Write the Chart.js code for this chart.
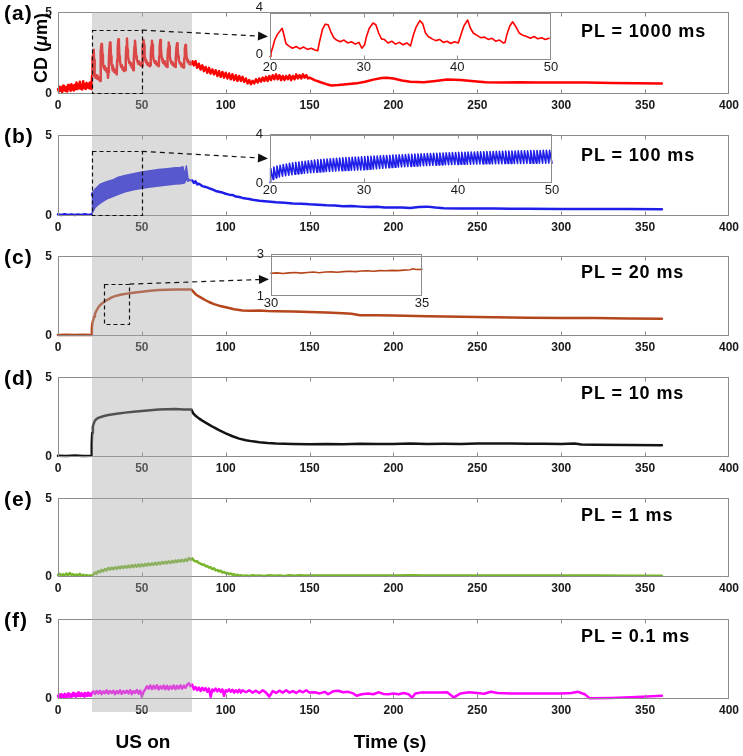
<!DOCTYPE html>
<html><head><meta charset="utf-8">
<script src="https://cdn.jsdelivr.net/npm/chart.js@4.4.0/dist/chart.umd.min.js"></script>
<style>
html,body{margin:0;padding:0;background:#fff;}
#wrap{position:relative;width:743px;height:756px;overflow:hidden;font-family:Arial,"Liberation Sans",Helvetica,sans-serif;}
#wrap canvas{position:absolute;}
.t{position:absolute;font-weight:bold;color:#000;white-space:nowrap;z-index:5;}
.pl{font-size:18px;line-height:18px;letter-spacing:0.9px;left:581px;}
.pn{font-size:21px;line-height:21px;letter-spacing:1px;left:4px;}
</style></head><body>
<div id="wrap">
  <div class="t pn" style="top:1.7px">(a)</div>
  <div class="t pn" style="top:124.7px">(b)</div>
  <div class="t pn" style="top:245.7px">(c)</div>
  <div class="t pn" style="top:366.7px">(d)</div>
  <div class="t pn" style="top:487.7px">(e)</div>
  <div class="t pn" style="top:608.7px">(f)</div>
  <div class="t pl" style="top:22px">PL = 1000 ms</div>
  <div class="t pl" style="top:146px">PL = 100 ms</div>
  <div class="t pl" style="top:263px">PL = 20 ms</div>
  <div class="t pl" style="top:384px">PL = 10 ms</div>
  <div class="t pl" style="top:506px">PL = 1 ms</div>
  <div class="t pl" style="top:627px">PL = 0.1 ms</div>
  <div class="t" style="left:41px;top:48px;font-size:18px;line-height:18px;transform:translate(-50%,-50%) rotate(-90deg);">CD (<span style="font-style:italic">μ</span>m)</div>
  <div class="t" style="left:143px;top:732px;font-size:19px;line-height:19px;transform:translateX(-50%);">US on</div>
  <div class="t" style="left:390px;top:732px;font-size:19px;line-height:19px;transform:translateX(-50%);">Time (s)</div>
</div>
<script>
// ---------------- DATA ----------------
const xTickStep = 50, xMax = 400, yMax = 5;
const usOn = [20, 80];

// (a) PL = 1000 ms  [time s, CD um]
const aBefore = [[0,0.3],[0.5,0.15],[1,0.45],[1.5,0.2],[2,0.4],[2.5,0.12],[3,0.5],[3.5,0.25],[4,0.45],[4.5,0.18],[5,0.42],[5.5,0.15],[6,0.55],[6.5,0.3],[7,0.48],[7.5,0.2],[8,0.6],[8.5,0.28],[9,0.5],[9.5,0.22],[10,0.55],[10.5,0.3],[11,0.7],[11.5,0.3],[12,0.58],[12.5,0.35],[13,0.75],[13.5,0.32],[14,0.55],[14.5,0.28],[15,0.78],[15.5,0.38],[16,0.6],[16.5,0.3],[17,0.68],[17.5,0.4],[18,0.62],[18.5,0.35],[19,0.7],[19.5,0.4],[20,0.3]];
const aDuring = [
 [20.1,0.6],[20.3,1.1],[20.5,1.7],[20.8,2.2],[21.1,2.5],[21.3,2.7],[21.5,2.1],[21.7,1.4],[22.0,1.2],[22.4,1.0],[22.8,1.15],[23.2,0.95],[23.6,1.1],[24.0,0.9],[24.4,1.0],[24.8,0.85],[25.1,0.8],
 [25.3,1.6],[25.6,2.6],[25.9,3.05],[26.2,3.0],[26.5,2.4],[26.8,1.9],[27.1,1.7],[27.5,1.55],[27.9,1.7],[28.3,1.45],[28.7,1.55],[29.1,1.35],[29.5,1.5],[29.8,1.0],[30.1,1.3],
 [30.3,2.0],[30.6,2.7],[31.0,3.15],[31.3,3.0],[31.6,2.3],[31.9,1.8],[32.2,1.75],[32.6,1.45],[33.0,1.6],[33.4,1.35],[33.8,1.5],[34.2,1.3],[34.6,1.45],[35.0,1.2],
 [35.3,2.1],[35.6,2.8],[36.0,3.35],[36.3,3.1],[36.6,2.3],[36.9,2.0],[37.3,1.8],[37.7,1.65],[38.1,1.75],[38.5,1.5],[38.9,1.6],[39.3,1.4],[39.7,1.55],[40.1,1.45],
 [40.4,2.2],[40.7,2.9],[41.1,3.4],[41.4,2.7],[41.7,2.3],[42.1,2.1],[42.5,1.9],[42.9,1.95],[43.3,1.75],[43.7,1.85],[44.1,1.6],[44.5,1.7],[44.9,1.45],[45.1,1.5],
 [45.3,2.2],[45.6,2.9],[45.9,3.25],[46.2,2.9],[46.6,2.3],[47.0,2.1],[47.4,2.0],[47.8,1.85],[48.2,2.0],[48.6,1.8],[49.0,1.9],[49.4,1.75],[49.8,1.85],[50.1,1.7],
 [50.3,2.3],[50.6,2.9],[51.0,3.3],[51.3,3.0],[51.6,2.4],[52.0,2.1],[52.4,1.95],[52.8,2.0],[53.2,1.8],[53.6,1.9],[54.0,1.75],[54.4,1.85],[54.8,1.7],[55.1,1.75],
 [55.3,2.3],[55.6,2.9],[56.0,3.25],[56.3,3.0],[56.6,2.4],[57.0,2.1],[57.4,2.0],[57.8,1.9],[58.2,2.0],[58.6,1.8],[59.0,1.9],[59.4,1.75],[59.8,1.85],[60.1,1.7],
 [60.3,2.3],[60.6,2.9],[61.0,3.3],[61.3,2.95],[61.6,2.4],[62.0,2.15],[62.4,2.0],[62.8,1.9],[63.2,2.0],[63.6,1.8],[64.0,1.85],[64.4,1.7],[64.8,1.8],[65.1,1.65],
 [65.3,2.2],[65.6,2.8],[66.0,3.15],[66.3,2.9],[66.6,2.35],[67.0,2.1],[67.4,1.95],[67.8,1.85],[68.2,1.95],[68.6,1.75],[69.0,1.85],[69.4,1.7],[69.8,1.8],[70.1,1.65],
 [70.3,2.2],[70.6,2.8],[71.0,3.1],[71.3,2.85],[71.6,2.3],[72.0,2.05],[72.4,1.95],[72.8,1.85],[73.2,1.9],[73.6,1.7],[74.0,1.8],[74.4,1.65],[74.8,1.75],[75.1,1.6],
 [75.3,2.2],[75.6,2.75],[76.0,3.0],[76.3,2.8],[76.6,2.3],[77.0,2.1],[77.4,1.95],[77.8,2.0],[78.2,1.85],[78.6,1.95],[79.0,1.8],[79.4,1.9],[79.8,1.85]];
const aAfter = [[80.2,2.0],[81,1.75],[82,2.0],[83,1.6],[84,1.85],[85,1.5],[86,1.75],[87,1.4],[88,1.65],[89,1.3],[90,1.6],[91,1.25],[92,1.5],[93,1.2],[94,1.45],[95,1.1],[96,1.4],[97,1.05],[98,1.35],[99,1.0],[100,1.3],[101,0.95],[102,1.25],[103,0.9],[104,1.2],[105,0.85],[106,1.15],[107,0.8],[108,1.1],[109,0.8],[110,1.05],[111,0.75],[112,0.95],[113,0.65],[114,0.85],[115,0.6],[116,0.8],[117,0.65],[118,0.9],[119,0.7],[120,0.95],[121,0.75],[122,1.0],[123,0.8],[124,1.05],[125,0.8],[126,1.1],[127,0.85],[128,1.15],[129,0.9],[130,1.2],[131,0.9],[132,1.15],[133,0.85],[134,1.1],[135,0.85],[136,1.1],[137,0.9],[138,1.15],[139,0.85],[140,1.1],[141,0.9],[142,1.2],[143,0.95],[144,1.15],[145,0.95],[146,1.2],[147,1.0],[148,1.15],[149,0.95],[150,1.0],[153,0.85],[157,0.7],[160,0.6],[163,0.52],[167,0.55],[172,0.6],[178,0.65],[183,0.75],[188,0.88],[193,0.98],[196,1.0],[200,0.95],[205,0.82],[210,0.75],[218,0.72],[225,0.8],[232,0.88],[240,0.85],[248,0.78],[255,0.72],[265,0.7],[275,0.72],[285,0.7],[300,0.71],[315,0.7],[330,0.68],[345,0.66],[360,0.64]];

// (b) PL = 100 ms
const bBefore = [[0,0.1],[2,0.06],[4,0.11],[6,0.07],[8,0.1],[10,0.06],[12,0.1],[14,0.07],[16,0.11],[18,0.07],[19.9,0.1]];
const bBandT     = [20,20.5,21,22,23,25,27,30,33,36,40,45,50,55,60,65,70,73,74.5,75.5,76.5,77.5,78.5,80];
const bBandUpper = [1.3,1.45,1.5,1.65,1.75,1.95,2.05,2.15,2.25,2.4,2.5,2.62,2.72,2.8,2.88,2.93,2.98,3.0,3.05,2.5,3.1,2.3,2.25,2.2];
const bBandLower = [0.1,0.2,0.3,0.5,0.62,0.78,0.92,1.1,1.22,1.35,1.5,1.62,1.72,1.8,1.86,1.92,1.98,2.0,2.02,2.05,2.3,2.15,2.2,2.2];
const bAfter = [[80,2.2],[81,2.05],[82,2.15],[83,1.95],[84,2.0],[86,1.85],[88,1.8],[90,1.72],[92,1.65],[94,1.55],[96,1.5],[98,1.45],[100,1.38],[102,1.32],[104,1.3],[106,1.2],[108,1.18],[110,1.12],[112,1.08],[114,1.05],[116,1.0],[118,0.98],[120,0.95],[125,0.9],[130,0.85],[135,0.82],[140,0.78],[145,0.76],[150,0.72],[155,0.7],[160,0.66],[165,0.65],[170,0.6],[175,0.62],[180,0.58],[185,0.55],[190,0.57],[195,0.52],[200,0.52],[205,0.53],[210,0.5],[215,0.55],[220,0.58],[225,0.52],[230,0.48],[240,0.47],[250,0.46],[260,0.46],[270,0.45],[280,0.45],[300,0.44],[320,0.44],[340,0.43],[360,0.42]];
// (b) inset: one tooth per pulse, pulses start at 20 s, period 1/3 s
const bPulseStart = 20, bPulsePeriod = 1/3, bRise = 0.07;
const bToothLow = [0.05,0.3,0.42,0.5,0.56,0.6,0.64,0.68,0.71,0.74,0.77,0.8,0.82,0.84,0.86,0.88,0.9,0.92,0.94,0.95,0.97,0.98,1.0,1.01,1.02,1.03,1.04,1.05,1.06,1.07,
 1.08,1.1,1.12,1.14,1.16,1.18,1.2,1.22,1.24,1.26,1.28,1.3,1.32,1.33,1.35,1.36,1.38,1.39,1.4,1.42,1.43,1.44,1.45,1.46,1.47,1.48,1.49,1.5,1.51,1.52,
 1.52,1.53,1.53,1.54,1.54,1.55,1.55,1.56,1.56,1.57,1.57,1.57,1.58,1.58,1.58,1.59,1.59,1.59,1.6,1.6,1.6,1.6,1.61,1.61,1.61,1.62,1.62,1.62,1.62,1.63];
const bToothHigh = [1.2,1.3,1.38,1.45,1.5,1.55,1.6,1.64,1.68,1.72,1.75,1.78,1.81,1.84,1.87,1.9,1.92,1.94,1.96,1.98,2.0,2.02,2.04,2.06,2.07,2.08,2.1,2.11,2.12,2.14,
 2.15,2.17,2.18,2.2,2.21,2.22,2.24,2.25,2.26,2.28,2.29,2.3,2.31,2.32,2.34,2.35,2.36,2.37,2.38,2.39,2.4,2.41,2.42,2.43,2.44,2.45,2.46,2.47,2.48,2.49,
 2.5,2.5,2.51,2.52,2.52,2.53,2.54,2.54,2.55,2.56,2.56,2.57,2.58,2.58,2.59,2.6,2.6,2.6,2.61,2.62,2.62,2.63,2.63,2.64,2.64,2.65,2.65,2.66,2.66,2.67];

// (c) PL = 20 ms
const cData = [[0,0.07],[5,0.08],[10,0.06],[15,0.08],[19.8,0.07],[20.2,0.5],[20.5,0.8],[21,1.0],[21.5,1.2],[22,1.38],[23,1.6],[24,1.78],[25,1.92],[26,2.02],[27,2.1],[28,2.18],[29,2.25],[30,2.3],[32,2.42],[34,2.5],[36,2.55],[38,2.6],[40,2.64],[43,2.68],[46,2.72],[50,2.77],[55,2.83],[60,2.88],[65,2.9],[70,2.92],[75,2.92],[79.5,2.91],[80.5,2.8],[82,2.62],[84,2.48],[86,2.36],[88,2.24],[90,2.13],[93,2.0],[96,1.9],[100,1.8],[105,1.68],[110,1.6],[115,1.58],[120,1.6],[125,1.56],[130,1.55],[140,1.53],[150,1.5],[160,1.47],[170,1.42],[175,1.4],[180,1.3],[190,1.3],[200,1.28],[220,1.24],[240,1.2],[260,1.17],[280,1.15],[300,1.13],[320,1.12],[340,1.1],[360,1.08]];
const cInset = [[30,2.08],[30.2,2.1],[30.4,2.07],[30.6,2.1],[30.8,2.12],[31,2.09],[31.2,2.12],[31.4,2.14],[31.6,2.11],[31.8,2.14],[32,2.15],[32.2,2.13],[32.4,2.16],[32.6,2.18],[32.8,2.16],[33,2.19],[33.2,2.2],[33.4,2.18],[33.6,2.21],[33.8,2.2],[34,2.22],[34.2,2.21],[34.4,2.23],[34.6,2.25],[34.7,2.3],[34.8,2.26],[35,2.27]];

// (d) PL = 10 ms
const dData = [[0,0.08],[5,0.07],[10,0.09],[15,0.07],[19.8,0.08],[20.1,0.8],[20.4,1.5],[20.8,1.9],[21.3,2.1],[22,2.28],[23,2.38],[24,2.45],[26,2.52],[28,2.58],[30,2.63],[33,2.68],[36,2.72],[40,2.78],[45,2.84],[50,2.88],[55,2.93],[60,2.97],[65,2.99],[70,3.0],[75,2.98],[79.5,2.97],[80.5,2.75],[82,2.58],[84,2.42],[86,2.28],[88,2.15],[90,2.03],[93,1.85],[96,1.68],[100,1.48],[104,1.3],[108,1.15],[112,1.05],[116,0.98],[120,0.93],[125,0.88],[130,0.85],[140,0.82],[150,0.8],[160,0.82],[170,0.8],[180,0.83],[190,0.81],[200,0.82],[210,0.84],[220,0.82],[230,0.83],[240,0.82],[250,0.84],[260,0.85],[270,0.84],[280,0.83],[290,0.83],[300,0.82],[308,0.84],[312,0.78],[320,0.76],[340,0.75],[360,0.74]];

// (e) PL = 1 ms
const eData = [[0,0.12],[1,0.2],[2,0.1],[3,0.17],[4,0.08],[5,0.22],[6,0.12],[7,0.25],[8,0.13],[9,0.18],[10,0.09],[11,0.16],[12,0.1],[13,0.2],[14,0.08],[15,0.14],[16,0.07],[17,0.12],[18,0.07],[19,0.1],[20,0.08],
 [21,0.15],[22,0.28],[23,0.2],[24,0.38],[25,0.3],[26,0.45],[27,0.37],[28,0.5],[29,0.42],[30,0.57],[31,0.47],[32,0.59],[33,0.49],[34,0.62],[35,0.52],[36,0.65],[37,0.55],[38,0.67],[39,0.57],[40,0.69],[41,0.59],[42,0.72],[43,0.61],[44,0.75],[45,0.63],[46,0.77],[47,0.65],[48,0.79],[49,0.67],[50,0.8],[51,0.69],[52,0.83],[53,0.72],[54,0.85],[55,0.75],[56,0.87],[57,0.77],[58,0.9],[59,0.79],[60,0.92],[61,0.82],[62,0.95],[63,0.85],[64,0.97],[65,0.87],[66,0.99],[67,0.89],[68,1.02],[69,0.92],[70,1.05],[71,0.95],[72,1.07],[73,0.97],[74,1.09],[75,0.99],[76,1.12],[77,1.02],[78,1.2],[79,1.1],[80,1.18],
 [81,1.05],[82,0.98],[83,1.0],[84,0.88],[85,0.85],[86,0.78],[87,0.8],[88,0.68],[89,0.7],[90,0.6],[91,0.62],[92,0.5],[93,0.55],[94,0.42],[95,0.45],[96,0.35],[97,0.4],[98,0.28],[99,0.32],[100,0.24],[101,0.26],[102,0.18],[103,0.22],[104,0.14],[105,0.17],[106,0.1],[107,0.14],[108,0.08],[109,0.11],[110,0.07],[112,0.1],[114,0.07],[116,0.11],[118,0.08],[120,0.1],[123,0.07],[126,0.11],[129,0.08],[132,0.1],[135,0.07],[138,0.11],[141,0.08],[144,0.11],[147,0.09],[150,0.1],[160,0.09],[170,0.1],[180,0.09],[190,0.1],[200,0.09],[210,0.11],[220,0.1],[230,0.09],[240,0.1],[250,0.09],[260,0.1],[270,0.09],[280,0.1],[290,0.09],[300,0.1],[320,0.09],[340,0.08],[360,0.08]];

// (f) PL = 0.1 ms
const fData = [[0,0.2],[0.5,0.1],[1,0.28],[1.5,0.12],[2,0.3],[2.5,0.15],[3,0.25],[3.5,0.1],[4,0.32],[4.5,0.14],[5,0.26],[5.5,0.12],[6,0.35],[6.5,0.18],[7,0.28],[7.5,0.12],[8,0.3],[8.5,0.16],[9,0.38],[9.5,0.2],[10,0.3],[10.5,0.15],[11,0.33],[11.5,0.18],[12,0.4],[12.5,0.2],[13,0.32],[13.5,0.18],[14,0.36],[14.5,0.2],[15,0.3],[15.5,0.16],[16,0.38],[16.5,0.22],[17,0.34],[17.5,0.2],[18,0.4],[18.5,0.22],[19,0.35],[19.5,0.2],[20,0.3],
 [21,0.48],[22,0.32],[23,0.5],[24,0.35],[25,0.52],[26,0.3],[27,0.48],[28,0.36],[29,0.55],[30,0.34],[31,0.5],[32,0.38],[33,0.52],[34,0.3],[35,0.5],[36,0.36],[37,0.54],[38,0.32],[39,0.5],[40,0.38],[41,0.52],[42,0.35],[43,0.55],[44,0.3],[45,0.5],[46,0.38],[47,0.56],[48,0.34],[49,0.52],[50,0.15],[51,0.45],[52,0.6],
 [53,0.8],[54,0.65],[55,0.85],[56,0.62],[57,0.82],[58,0.66],[59,0.86],[60,0.6],[61,0.8],[62,0.65],[63,0.84],[64,0.62],[65,0.82],[66,0.6],[67,0.8],[68,0.64],[69,0.85],[70,0.62],[71,0.82],[72,0.66],[73,0.86],[74,0.64],[75,0.84],[76,0.7],[77,0.9],[78,0.98],[79,0.8],[80,0.9],
 [81,0.6],[82,0.75],[83,0.55],[84,0.72],[85,0.5],[86,0.7],[87,0.55],[88,0.68],[89,0.45],[90,0.65],[91,0.12],[92,0.6],[93,0.5],[94,0.65],[95,0.48],[96,0.62],[97,0.45],[98,0.6],[99,0.2],[100,0.55],[101,0.48],[102,0.6],[103,0.45],[104,0.58],[105,0.4],[106,0.55],[107,0.42],[108,0.58],[109,0.4],[110,0.55],[112,0.42],[114,0.55],[116,0.4],[118,0.52],[120,0.38],[122,0.55],[124,0.4],[126,0.15],[128,0.5],[130,0.38],[132,0.52],[134,0.4],[136,0.55],[138,0.4],[140,0.5],[142,0.38],[144,0.52],[146,0.42],[148,0.55],[150,0.4],
 [153,0.42],[156,0.35],[159,0.45],[161,0.3],[164,0.48],[167,0.52],[170,0.42],[173,0.45],[176,0.35],[178,0.2],[181,0.3],[185,0.35],[188,0.3],[191,0.42],[194,0.32],[197,0.3],[200,0.35],[203,0.3],[206,0.38],[209,0.3],[211,0.08],[213,0.35],[216,0.4],[222,0.4],[228,0.4],[232,0.42],[236,0.1],[240,0.35],[245,0.42],[250,0.38],[254,0.33],[258,0.45],[262,0.38],[270,0.35],[280,0.35],[290,0.35],[300,0.35],[306,0.38],[310,0.45],[314,0.3],[317,0.04],[330,0.07],[345,0.12],[360,0.2]];

// tick values of the insets' y axes
const insetATicks = [0, 4], insetBTicks = [0, 4], insetCTicks = [1, 3];

// zoom boxes [x1,x2,y1,y2] and arrow targets (inset y value)
const zoomA = [20,50,0,3.9], zoomB = [20,50,0,4], zoomC = [27.5,42.5,0.7,3.25];
const arrowY = [2, 2, 1.8];

// ---------------- RENDERING ----------------
Chart.defaults.font.family = 'Arial, "Liberation Sans", Helvetica, sans-serif';
const wrap = document.getElementById('wrap');
const frameColor = '#8c8c8c', tickColor = '#1a1a1a';
const framePlugin = {
  id: 'frame',
  afterDraw(chart) {
    const ctx = chart.ctx, a = chart.chartArea;
    const L = Math.round(a.left) + 0.5, R = Math.round(a.right) - 0.5;
    const T = Math.round(a.top) + 0.5, B = Math.round(a.bottom) - 0.5;
    ctx.save();
    ctx.strokeStyle = frameColor; ctx.lineWidth = 1;
    ctx.strokeRect(L, T, R - L, B - T);
    const xs = chart.scales.x;
    ctx.beginPath();
    xs.ticks.forEach(t => {
      const p = Math.round(xs.getPixelForValue(t.value)) + 0.5;
      if (p <= L + 1 || p >= R - 1) return;
      ctx.moveTo(p, B); ctx.lineTo(p, B - 4);
      ctx.moveTo(p, T); ctx.lineTo(p, T + 4);
    });
    ctx.stroke();
    ctx.restore();
  }
};
const pts = arr => arr.map(p => ({x: p[0], y: p[1]}));
function line(data, color, w, extra) {
  return Object.assign({data: pts(data), borderColor: color, backgroundColor: color, borderWidth: w,
    pointRadius: 0, tension: 0, borderJoinStyle: 'round', borderCapStyle: 'round', fill: false, clip: 3}, extra || {});
}
function makeCanvas(left, top, w, h) {
  const c = document.createElement('canvas');
  c.width = w; c.height = h;
  c.style.left = left + 'px'; c.style.top = top + 'px';
  c.style.width = w + 'px'; c.style.height = h + 'px';
  wrap.appendChild(c);
  return c;
}
function axisOpts(o) {
  const y = {type: 'linear', min: o.ymin, max: o.ymax,
        ticks: {stepSize: o.ystep, padding: o.ypad, color: tickColor, labelOffset: o.yoff || 0,
                font: {size: o.fs, weight: o.fw}},
        grid: {display: false, drawTicks: false}, border: {display: false},
        afterFit(s) { s.width = o.yw; }};
  if (o.yticks) y.afterBuildTicks = s => { s.ticks = o.yticks.map(v => ({value: v})); };
  return {
    x: {type: 'linear', min: o.xmin, max: o.xmax,
        ticks: {stepSize: o.xstep, autoSkip: false, maxRotation: 0, padding: o.xpad, color: tickColor,
                font: {size: o.fs, weight: o.fw}},
        grid: {display: false, drawTicks: false}, border: {display: false},
        afterFit(s) { s.height = o.xh; }},
    y: y
  };
}
function makeChart(canvas, datasets, pad, axes) {
  return new Chart(canvas, {
    type: 'line',
    data: {datasets},
    options: {responsive: false, animation: false, events: [], devicePixelRatio: 1,
      layout: {padding: pad},
      plugins: {legend: {display: false}, tooltip: {enabled: false}},
      scales: axes},
    plugins: [framePlugin]
  });
}

const panelTop = [9, 132, 253, 374, 495, 616];
const panelH = [85, 84, 83, 83, 82, 83];
const plotLeft = 58, plotRight = 730, W = 743;
const RED = '#ff0000', BLUE = '#1e1ee8', BROWN = '#b5461c', BLACK = '#141414', GREEN = '#77b52a', MAG = '#ff00ff';

const bUpperPts = bBandT.map((t, i) => [t, bBandUpper[i]]);
const bLowerPts = bBandT.map((t, i) => [t, bBandLower[i]]);
const bTeeth = [];
bToothLow.forEach((lo, k) => {
  const t = bPulseStart + k * bPulsePeriod;
  bTeeth.push([t, lo]);
  bTeeth.push([t + bRise, bToothHigh[k]]);
});
bTeeth.push([50, bToothLow[bToothLow.length - 1]]);

const aAll = aBefore.concat(aDuring, aAfter);
const panelSets = [
  [line(aAll, RED, 2.5)],
  [line(bBefore, BLUE, 2.5), line(bUpperPts, BLUE, 1.5), line(bLowerPts, BLUE, 1.5, {fill: '-1'}), line(bAfter, BLUE, 2.5)],
  [line(cData, BROWN, 2.5)],
  [line(dData, BLACK, 2.5)],
  [line(eData, GREEN, 2.5)],
  [line(fData, MAG, 2.5)]
];
const charts = panelSets.map((sets, i) => {
  const c = makeCanvas(0, panelTop[i] - 10, W, 10 + panelH[i] + 30);
  return makeChart(c, sets, {left: 0, right: W - plotRight, top: 10, bottom: 0},
    axisOpts({xmin: 0, xmax: xMax, xstep: xTickStep, ymin: 0, ymax: yMax, ystep: yMax,
              xpad: 4, ypad: 6, fs: 12, fw: 'bold', xh: 30, yw: plotLeft}));
});

// insets
function makeInset(L, R, T, B, sets, ax) {
  const yw = 24, rp = 12, tp = 16, xh = 18;
  const c = makeCanvas(L - yw, T - tp, yw + (R - L) + rp, tp + (B - T) + xh);
  return makeChart(c, sets, {left: 0, right: rp, top: tp, bottom: 0},
    axisOpts(Object.assign({xpad: 0, ypad: 7, fs: 13, fw: 'normal', xh: xh, yw: yw}, ax)));
}
const insetA = makeInset(270, 551, 13, 60, [line(aAll.filter(p => p[0] >= 20 && p[0] <= 50), RED, 1.6)],
  {xmin: 20, xmax: 50, xstep: 10, ymin: 0, ymax: 4, ystep: 4, yticks: insetATicks, yoff: -6});
const insetB = makeInset(270, 552, 134, 183, [line(bTeeth, BLUE, 1.6)],
  {xmin: 20, xmax: 50, xstep: 10, ymin: 0, ymax: 4, ystep: 4, yticks: insetBTicks});
const insetC = makeInset(271, 422, 254, 296, [line(cInset, BROWN, 1.6)],
  {xmin: 30, xmax: 35, xstep: 5, ymin: 1, ymax: 3, ystep: 2, yticks: insetCTicks});

// overlay: US-on band, zoom boxes, leader arrows
const ov = makeCanvas(0, 0, W, 756);
ov.style.pointerEvents = 'none';
const g = ov.getContext('2d');
function P(ch, x, y) {
  return [parseFloat(ch.canvas.style.left) + ch.scales.x.getPixelForValue(x),
          parseFloat(ch.canvas.style.top) + ch.scales.y.getPixelForValue(y)];
}
const [bx1, by1] = P(charts[0], usOn[0], yMax);
const [bx2] = P(charts[0], usOn[1], yMax);
const by2 = P(charts[5], 0, 0)[1] + 13;
g.fillStyle = 'rgba(170,170,170,0.42)';
g.fillRect(Math.round(bx1), Math.round(by1), Math.round(bx2) - Math.round(bx1), Math.round(by2 - by1));

g.strokeStyle = '#111'; g.fillStyle = '#111'; g.lineWidth = 1.2;
function dashBox(ch, z) {
  const [x1, y1] = P(ch, z[0], z[3]);
  const [x2, y2] = P(ch, z[1], z[2]);
  g.setLineDash([4, 3]);
  g.strokeRect(Math.round(x1) + 0.5, Math.round(y1) + 0.5, Math.round(x2 - x1), Math.round(y2 - y1) - 1);
  g.setLineDash([]);
}
function leader(ch, z, ins, iy) {
  const [sx, sy] = P(ch, z[1], z[3]);
  const tipX = parseFloat(ins.canvas.style.left) + ins.chartArea.left - 2;
  const tipY = P(ins, ins.scales.x.min, iy)[1];
  const ang = Math.atan2(tipY - sy, tipX - sx);
  const Lh = 10, Wh = 4.5;
  const hx = tipX - Lh * Math.cos(ang), hy = tipY - Lh * Math.sin(ang);
  g.setLineDash([5, 4]);
  g.beginPath(); g.moveTo(sx, sy); g.lineTo(hx, hy); g.stroke();
  g.setLineDash([]);
  g.beginPath(); g.moveTo(tipX, tipY);
  g.lineTo(hx - Wh * Math.sin(ang), hy + Wh * Math.cos(ang));
  g.lineTo(hx + Wh * Math.sin(ang), hy - Wh * Math.cos(ang));
  g.closePath(); g.fill();
}
dashBox(charts[0], zoomA); leader(charts[0], zoomA, insetA, arrowY[0]);
dashBox(charts[1], zoomB); leader(charts[1], zoomB, insetB, arrowY[1]);
dashBox(charts[2], zoomC); leader(charts[2], zoomC, insetC, arrowY[2]);
</script>
</body></html>
